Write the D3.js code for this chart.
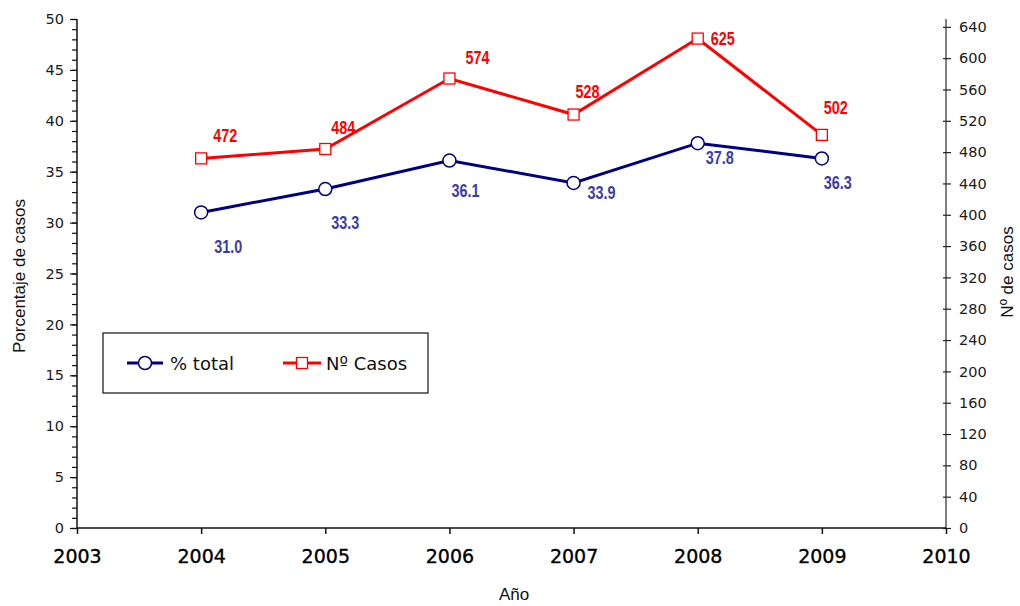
<!DOCTYPE html>
<html>
<head>
<meta charset="utf-8">
<script src="https://cdn.jsdelivr.net/npm/d3@7"></script>
<style>
  body { margin: 0; background: #fff; }
  svg { display: block; }
  .tickLbl { font-family: "DejaVu Sans", Verdana, sans-serif; font-size: 14.5px; fill: #1a1a1a; }
  .yearLbl { font-family: "DejaVu Sans", Verdana, sans-serif; font-size: 19px; fill: #000; stroke: #000; stroke-width: 0.35px; }
  .axTitle { font-family: "Liberation Sans", Arial, sans-serif; font-size: 17px; fill: #111; }
  .dataLbl { font-family: "Liberation Sans Narrow", "Arial Narrow", "Liberation Sans", sans-serif; font-size: 18px; font-weight: bold; }
  .legLbl { font-family: "DejaVu Sans", Verdana, sans-serif; font-size: 18px; fill: #111; }
</style>
</head>
<body>
<div id="chart"></div>
<script>
/* data */
var years = [2004, 2005, 2006, 2007, 2008, 2009]
var pctTotal = [31.0, 33.3, 36.1, 33.9, 37.8, 36.3]
var numCasos = [472, 484, 574, 528, 625, 502]
var yearTicks = [2003, 2004, 2005, 2006, 2007, 2008, 2009, 2010]
var leftTicks = [0, 5, 10, 15, 20, 25, 30, 35, 40, 45, 50]
var rightTicks = [0, 40, 80, 120, 160, 200, 240, 280, 320, 360, 400, 440, 480, 520, 560, 600, 640]

/* label nudges, layout only */
var pctLabelDx = [27, 20, 16, 28, 22, 16]
var pctLabelDy = [34, 33, 30, 9, 14, 24]
var casosLabelDx = [24, 18, 28, 14, 25, 14]
var casosLabelDy = [-23, -22, -21, -23, 0, -28]

var blue = "#000080"
    blueLbl = "#3c3ca8"
    red = "#ff0000"

var width = 1020
    height = 606
    plot = { left: 77, right: 946, top: 19, bottom: 528 }
    labelSqueeze = 0.8 // narrow look of the data labels

var x = d3.scaleLinear().domain([2003, 2010]).range([plot.left, plot.right])
    yL = d3.scaleLinear().domain([0, 50]).range([plot.bottom, plot.top])
    yR = d3.scaleLinear().domain([0, 650]).range([plot.bottom, plot.top])

var svg = d3.select("#chart").append("svg")
  .attr("width", width)
  .attr("height", height)

/* left axis, minor ticks every 1 */
var leftAxis = svg.append("g")
  .attr("transform", "translate(" + plot.left + ",0)")
  .call(d3.axisLeft(yL).tickValues(d3.range(0, 51, 1)).tickSize(5).tickFormat(""))
leftAxis.select(".domain").remove()
leftAxis.selectAll("line").attr("stroke", "#111").attr("stroke-width", 1.2)

var leftMajor = svg.append("g")
  .attr("transform", "translate(" + plot.left + ",0)")
  .call(d3.axisLeft(yL).tickValues(leftTicks).tickSize(7).tickPadding(6))
leftMajor.select(".domain").attr("d", "M0," + plot.top + "V" + plot.bottom)
  .attr("stroke", "#111").attr("stroke-width", 1.5)
leftMajor.selectAll("line").attr("stroke", "#111").attr("stroke-width", 1.2)
leftMajor.selectAll("text").attr("class", "tickLbl").attr("font-size", null).attr("font-family", null)

/* right axis */
var rightAxis = svg.append("g")
  .attr("transform", "translate(" + plot.right + ",0)")
  .call(d3.axisRight(yR).tickValues(rightTicks).tickSize(5).tickPadding(8))
rightAxis.select(".domain").attr("d", "M0," + plot.top + "V" + plot.bottom)
  .attr("stroke", "#808080").attr("stroke-width", 2)
rightAxis.selectAll("line").attr("x1", -3).attr("stroke", "#222").attr("stroke-width", 1.2)
rightAxis.selectAll("text").attr("class", "tickLbl").attr("font-size", null).attr("font-family", null)

/* x axis */
var xAxis = svg.append("g")
  .attr("transform", "translate(0," + plot.bottom + ")")
  .call(d3.axisBottom(x).tickValues(yearTicks).tickSize(6).tickPadding(16).tickFormat(d3.format("d")))
xAxis.select(".domain").attr("d", "M" + plot.left + ",0H" + plot.right)
  .attr("stroke", "#111").attr("stroke-width", 1.5)
xAxis.selectAll("line").attr("stroke", "#111").attr("stroke-width", 1.5)
xAxis.selectAll("text").attr("class", "yearLbl").attr("font-size", null).attr("font-family", null)

/* axis titles */
svg.append("text")
  .attr("class", "axTitle")
  .attr("text-anchor", "middle")
  .attr("transform", "translate(25,276) rotate(-90)")
  .text("Porcentaje de casos")

svg.append("text")
  .attr("class", "axTitle")
  .attr("text-anchor", "middle")
  .attr("transform", "translate(1013,272) rotate(-90)")
  .text("Nº de casos")

svg.append("text")
  .attr("class", "axTitle")
  .attr("font-family", "DejaVu Sans, Verdana, sans-serif")
  .attr("font-size", 15)
  .attr("text-anchor", "middle")
  .attr("x", 514)
  .attr("y", 600)
  .text("Año")

/* lines */
var pctLine = d3.line()
  .x(function(d, i) { return x(years[i]) })
  .y(function(d) { return yL(d) })
var casosLine = d3.line()
  .x(function(d, i) { return x(years[i]) })
  .y(function(d) { return yR(d) })

svg.append("path")
  .attr("d", casosLine(numCasos))
  .attr("fill", "none")
  .attr("stroke", red)
  .attr("stroke-width", 3)

svg.append("path")
  .attr("d", pctLine(pctTotal))
  .attr("fill", "none")
  .attr("stroke", blue)
  .attr("stroke-width", 3)

svg.selectAll(".casosMark").data(numCasos).enter()
  .append("rect")
  .attr("class", "casosMark")
  .attr("x", function(d, i) { return x(years[i]) - 5.5 })
  .attr("y", function(d) { return yR(d) - 5.5 })
  .attr("width", 11)
  .attr("height", 11)
  .attr("fill", "#fff")
  .attr("stroke", red)
  .attr("stroke-width", 1.3)

svg.selectAll(".pctMark").data(pctTotal).enter()
  .append("circle")
  .attr("class", "pctMark")
  .attr("cx", function(d, i) { return x(years[i]) })
  .attr("cy", function(d) { return yL(d) })
  .attr("r", 6.5)
  .attr("fill", "#fff")
  .attr("stroke", blue)
  .attr("stroke-width", 1.5)

/* data labels */
svg.selectAll(".casosLbl").data(numCasos).enter()
  .append("text")
  .attr("class", "dataLbl")
  .attr("text-anchor", "middle")
  .attr("dominant-baseline", "central")
  .attr("transform", function(d, i) {
    return "translate(" + (x(years[i]) + casosLabelDx[i]) + "," + (yR(d) + casosLabelDy[i]) + ") scale(" + labelSqueeze + ",1)"
  })
  .attr("fill", red)
  .text(function(d) { return d })

svg.selectAll(".pctLbl").data(pctTotal).enter()
  .append("text")
  .attr("class", "dataLbl")
  .attr("text-anchor", "middle")
  .attr("dominant-baseline", "central")
  .attr("transform", function(d, i) {
    return "translate(" + (x(years[i]) + pctLabelDx[i]) + "," + (yL(d) + pctLabelDy[i]) + ") scale(" + labelSqueeze + ",1)"
  })
  .attr("fill", blueLbl)
  .text(function(d) { return d3.format(".1f")(d) })

/* legend */
var legend = svg.append("g").attr("transform", "translate(103,333)")
legend.append("rect")
  .attr("width", 325)
  .attr("height", 60)
  .attr("fill", "#fff")
  .attr("stroke", "#111")
  .attr("stroke-width", 1.2)

legend.append("line")
  .attr("x1", 24).attr("x2", 60).attr("y1", 30).attr("y2", 30)
  .attr("stroke", blue).attr("stroke-width", 3)
legend.append("circle")
  .attr("cx", 42).attr("cy", 30).attr("r", 6.5)
  .attr("fill", "#fff").attr("stroke", blue).attr("stroke-width", 1.5)
legend.append("text")
  .attr("class", "legLbl")
  .attr("x", 67).attr("y", 30)
  .attr("dominant-baseline", "central")
  .text("% total")

legend.append("line")
  .attr("x1", 180).attr("x2", 218).attr("y1", 30).attr("y2", 30)
  .attr("stroke", red).attr("stroke-width", 3)
legend.append("rect")
  .attr("x", 193.5).attr("y", 24.5).attr("width", 11).attr("height", 11)
  .attr("fill", "#fff").attr("stroke", red).attr("stroke-width", 1.3)
legend.append("text")
  .attr("class", "legLbl")
  .attr("x", 223).attr("y", 30)
  .attr("dominant-baseline", "central")
  .text("Nº Casos")
</script>
</body>
</html>
